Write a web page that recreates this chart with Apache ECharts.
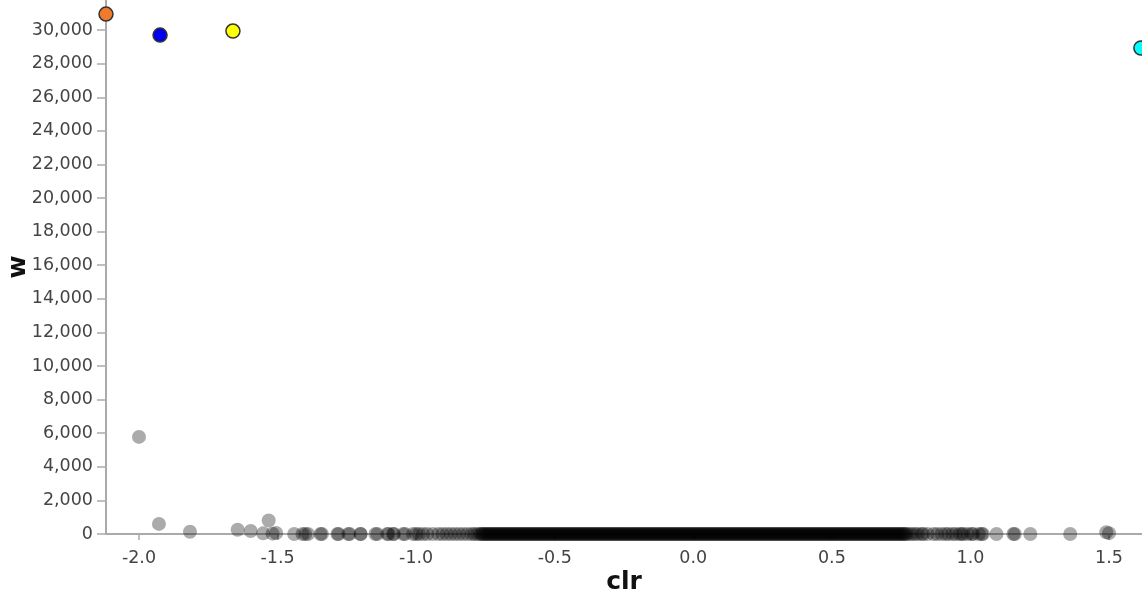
<!DOCTYPE html>
<html>
<head>
<meta charset="utf-8">
<script src="https://cdn.jsdelivr.net/npm/echarts@6/dist/echarts.min.js"></script>
<style>
html,body{margin:0;padding:0;background:#fff;}
#chart{width:1142px;height:598px;}
</style>
</head>
<body>
<div id="chart"></div>
<script>
// Tick labels
const xTicks = [-2.0, -1.5, -1.0, -0.5, 0.0, 0.5, 1.0, 1.5];
const yTicks = [0, 2000, 4000, 6000, 8000, 10000, 12000, 14000, 16000, 18000, 20000, 22000, 24000, 26000, 28000, 30000];

// Gray points lifted above the baseline
const raisedX = [-2.0, -1.928, -1.816, -1.644, -1.597, -1.532, -1.552, -1.518, -1.505, 1.49, 1.50];
const raisedY = [5780, 600, 130, 250, 180, 800, 40, 20, 60, 100, 50];

// Gray points lying at w = 0 (sparse tails)
const tailX = [-1.44, -1.41, -1.40, -1.39, -1.345, -1.34, -1.284, -1.28, -1.245, -1.24, -1.201, -1.20,
  -1.147, -1.14, -1.104, -1.10, -1.083, -1.08, -1.047, -1.04, -1.011, -1.0, -0.99, -0.975, -0.96,
  -0.94, -0.92, -0.905, -0.89, -0.875, -0.86, -0.845, -0.83, -0.815, -0.80, -0.79, -0.78,
  0.78, 0.79, 0.80, 0.81, 0.824, 0.83, 0.845, 0.867, 0.88, 0.896, 0.91, 0.92, 0.935, 0.946,
  0.96, 0.968, 0.975, 0.99, 1.004, 1.01, 1.03, 1.04, 1.045, 1.094, 1.155, 1.16, 1.216, 1.36];

// Gray points lying at w = 0 (dense core)
const coreX = [-0.77,-0.765,-0.76,-0.755,-0.75,-0.745,-0.74,-0.735,-0.73,-0.725,-0.72,-0.715,-0.71,-0.705,
  -0.7,-0.695,-0.69,-0.685,-0.68,-0.675,-0.67,-0.665,-0.66,-0.655,-0.65,-0.645,-0.64,-0.635,-0.63,-0.625,
  -0.62,-0.615,-0.61,-0.605,-0.6,-0.595,-0.59,-0.585,-0.58,-0.575,-0.57,-0.565,-0.56,-0.555,-0.55,-0.545,
  -0.54,-0.535,-0.53,-0.525,-0.52,-0.515,-0.51,-0.505,-0.5,-0.495,-0.49,-0.485,-0.48,-0.475,-0.47,-0.465,
  -0.46,-0.455,-0.45,-0.445,-0.44,-0.435,-0.43,-0.425,-0.42,-0.415,-0.41,-0.405,-0.4,-0.395,-0.39,-0.385,
  -0.38,-0.375,-0.37,-0.365,-0.36,-0.355,-0.35,-0.345,-0.34,-0.335,-0.33,-0.325,-0.32,-0.315,-0.31,-0.305,
  -0.3,-0.295,-0.29,-0.285,-0.28,-0.275,-0.27,-0.265,-0.26,-0.255,-0.25,-0.245,-0.24,-0.235,-0.23,-0.225,
  -0.22,-0.215,-0.21,-0.205,-0.2,-0.195,-0.19,-0.185,-0.18,-0.175,-0.17,-0.165,-0.16,-0.155,-0.15,-0.145,
  -0.14,-0.135,-0.13,-0.125,-0.12,-0.115,-0.11,-0.105,-0.1,-0.095,-0.09,-0.085,-0.08,-0.075,-0.07,-0.065,
  -0.06,-0.055,-0.05,-0.045,-0.04,-0.035,-0.03,-0.025,-0.02,-0.015,-0.01,-0.005,0,
  0.005,0.01,0.015,0.02,0.025,0.03,0.035,0.04,0.045,0.05,0.055,0.06,0.065,0.07,0.075,0.08,0.085,0.09,
  0.095,0.1,0.105,0.11,0.115,0.12,0.125,0.13,0.135,0.14,0.145,0.15,0.155,0.16,0.165,0.17,0.175,0.18,
  0.185,0.19,0.195,0.2,0.205,0.21,0.215,0.22,0.225,0.23,0.235,0.24,0.245,0.25,0.255,0.26,0.265,0.27,
  0.275,0.28,0.285,0.29,0.295,0.3,0.305,0.31,0.315,0.32,0.325,0.33,0.335,0.34,0.345,0.35,0.355,0.36,
  0.365,0.37,0.375,0.38,0.385,0.39,0.395,0.4,0.405,0.41,0.415,0.42,0.425,0.43,0.435,0.44,0.445,0.45,
  0.455,0.46,0.465,0.47,0.475,0.48,0.485,0.49,0.495,0.5,0.505,0.51,0.515,0.52,0.525,0.53,0.535,0.54,
  0.545,0.55,0.555,0.56,0.565,0.57,0.575,0.58,0.585,0.59,0.595,0.6,0.605,0.61,0.615,0.62,0.625,0.63,
  0.635,0.64,0.645,0.65,0.655,0.66,0.665,0.67,0.675,0.68,0.685,0.69,0.695,0.7,0.705,0.71,0.715,0.72,
  0.725,0.73,0.735,0.74,0.745,0.75,0.755,0.76,0.765,0.77];

// Highlighted points
const hiX = [-2.119, -1.924, -1.661, 1.615];
const hiY = [30950, 29700, 29940, 28930];
const hiColors = ['#f07a2c', '#0000ee', '#ffff00', '#00ffff'];

const grayData = [];
tailX.forEach(x => grayData.push([x, 0]));
coreX.forEach(x => grayData.push([x, 0]));
raisedX.forEach((x, i) => grayData.push([x, raisedY[i]]));

const hiData = hiX.map((x, i) => ({ value: [x, hiY[i]], itemStyle: { color: hiColors[i] } }));

const font = 'DejaVu Sans, Verdana, sans-serif';
const chart = echarts.init(document.getElementById('chart'), null, { renderer: 'canvas' });
chart.setOption({
  animation: false,
  backgroundColor: '#ffffff',
  grid: { left: 106, right: 0, top: 0, bottom: 64, containLabel: false, outerBoundsMode: 'none' },
  xAxis: {
    type: 'value', min: -2.119, max: 1.619,
    name: 'clr', nameLocation: 'middle', nameGap: 36, nameMoveOverlap: false,
    nameTextStyle: { fontSize: 25, fontWeight: 'bold', color: '#111', fontFamily: font },
    axisLine: { show: true, onZero: false, lineStyle: { color: '#aaaaaa', width: 2 } },
    axisTick: { show: true, length: 6, customValues: xTicks, lineStyle: { color: '#aaaaaa', width: 1.5 } },
    axisLabel: { customValues: xTicks, margin: 15, fontSize: 17.5, color: '#444', fontFamily: font,
      formatter: v => v.toFixed(1) },
    splitLine: { show: false }
  },
  yAxis: {
    type: 'value', min: 0, max: 31790,
    name: 'w', nameLocation: 'middle', nameGap: 75, nameMoveOverlap: false,
    nameTextStyle: { fontSize: 25, fontWeight: 'bold', color: '#111', fontFamily: font },
    axisLine: { show: true, onZero: false, lineStyle: { color: '#aaaaaa', width: 2 } },
    axisTick: { show: true, length: 9, customValues: yTicks, lineStyle: { color: '#aaaaaa', width: 1.5 } },
    axisLabel: { customValues: yTicks, margin: 13, fontSize: 17.5, color: '#444', fontFamily: font,
      formatter: v => v.toLocaleString('en-US') },
    splitLine: { show: false }
  },
  series: [
    {
      type: 'scatter', data: grayData, symbolSize: 14, clip: false, large: false,
      itemStyle: { color: 'rgba(0,0,0,0.33)', opacity: 1 }
    },
    {
      type: 'scatter', data: hiData, symbolSize: 14, clip: false,
      itemStyle: { borderColor: '#333', borderWidth: 1.5, opacity: 1 }
    }
  ]
});
</script>
</body>
</html>
